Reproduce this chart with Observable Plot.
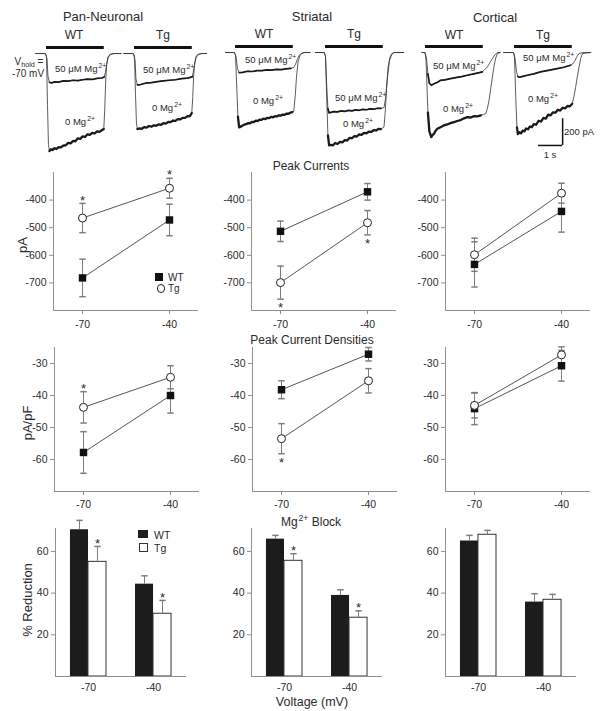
<!DOCTYPE html>
<html><head><meta charset="utf-8">
<script src="https://cdn.jsdelivr.net/npm/d3@7"></script>
<script src="https://cdn.jsdelivr.net/npm/@observablehq/plot@0.6"></script>
<style>
body{margin:0;background:#fff;}
#fig{position:relative;width:600px;height:711px;overflow:hidden;font-family:"Liberation Sans",Arial,Helvetica,sans-serif;color:#222;background:#fff;}
#fig svg{position:absolute;}
.lab{position:absolute;white-space:nowrap;line-height:1;}
.lab sup{font-size:0.72em;vertical-align:baseline;position:relative;top:-0.62em;margin-left:1px;}
.lab sub{font-size:0.72em;vertical-align:baseline;position:relative;top:0.3em;}
.sw{position:absolute;box-sizing:border-box;}
</style></head>
<body><div id="fig"></div>
<script>
// ---------------- DATA ----------------
const regions = ["Pan-Neuronal", "Striatal", "Cortical"];
const genotypes = ["WT", "Tg"];
const voltages = [-70, -40];               // holding potential (mV)

// Peak currents (pA): mean and SEM at -70, -40 mV
const peakPanWT = [-682, -472], peakPanWTsem = [68, 57];
const peakPanTg = [-465, -357], peakPanTgSem = [53, 36];
const peakStrWT = [-513, -370], peakStrWTsem = [37, 30];
const peakStrTg = [-699, -482], peakStrTgSem = [60, 44];
const peakCorWT = [-633, -441], peakCorWTsem = [82, 75];
const peakCorTg = [-598, -375], peakCorTgSem = [60, 36];
const peakSigPan = [true, true], peakSigStr = [true, true], peakSigCor = [false, false];

// Peak current densities (pA/pF)
const densPanWT = [-57.8, -40.0], densPanWTsem = [6.5, 5.5];
const densPanTg = [-43.7, -34.3], densPanTgSem = [4.9, 3.6];
const densStrWT = [-38.2, -27.1], densStrWTsem = [2.8, 2.1];
const densStrTg = [-53.5, -35.4], densStrTgSem = [4.7, 3.8];
const densCorWT = [-44.1, -30.7], densCorWTsem = [5.0, 4.8];
const densCorTg = [-43.1, -27.3], densCorTgSem = [3.9, 2.5];
const densSigPan = [true, false], densSigStr = [true, false], densSigCor = [false, false];

// Mg2+ block (% reduction)
const blockPanWT = [70.4, 44.3], blockPanWTsem = [4.5, 4.0];
const blockPanTg = [55.0, 30.1], blockPanTgSem = [7.4, 6.4];
const blockStrWT = [65.9, 38.9], blockStrWTsem = [1.8, 2.7];
const blockStrTg = [55.5, 28.2], blockStrTgSem = [3.4, 3.3];
const blockCorWT = [65.0, 35.7], blockCorWTsem = [2.7, 4.0];
const blockCorTg = [68.0, 36.8], blockCorTgSem = [2.1, 2.6];
const blockSigPan = [true, true], blockSigStr = [true, true], blockSigCor = [false, false];

const peakTicks = [-400, -500, -600, -700];
const densTicks = [-30, -40, -50, -60];
const blockTicks = [20, 40, 60];

// Example current traces at Vhold = -70 mV: [time (s) from agonist onset, current (pA)]
const application = [{start: 0, end: 2.4}];
const scaleBarTime = 1, scaleBarCurrent = 200;
const panWT50 = [[-0.45,0],[-0.05,0],[0.02,-40],[0.06,-170],[0.12,-215],[0.2,-220],[0.35,-212],[0.5,-214],[0.7,-205],[0.9,-207],[1.1,-200],[1.3,-203],[1.5,-196],[1.7,-192],[1.9,-194],[2.1,-186],[2.3,-183],[2.4,-175],[2.45,-140],[2.5,-80],[2.56,-30],[2.65,-8],[2.8,0],[3.1,0]];
const panWT0 = [[-0.45,0],[-0.05,0],[0,-20],[0.04,-380],[0.08,-680],[0.12,-730],[0.18,-716],[0.25,-722],[0.33,-708],[0.42,-714],[0.5,-700],[0.6,-702],[0.7,-688],[0.8,-686],[0.9,-668],[1,-672],[1.1,-654],[1.2,-656],[1.3,-634],[1.4,-638],[1.5,-620],[1.6,-624],[1.7,-604],[1.8,-608],[1.9,-594],[2,-598],[2.1,-582],[2.2,-586],[2.3,-574],[2.38,-565],[2.42,-420],[2.46,-200],[2.5,-80],[2.56,-25],[2.65,-5],[2.8,0],[3.1,0]];
const panTg50 = [[-0.45,0],[-0.05,0],[0.02,-50],[0.06,-190],[0.12,-235],[0.25,-232],[0.45,-222],[0.7,-218],[0.95,-210],[1.2,-204],[1.45,-200],[1.7,-196],[1.95,-188],[2.2,-184],[2.4,-175],[2.44,-140],[2.5,-80],[2.56,-30],[2.65,-8],[2.8,0],[3.0,0]];
const panTg0 = [[-0.45,0],[-0.05,0],[0,-20],[0.04,-300],[0.08,-520],[0.12,-565],[0.2,-560],[0.3,-563],[0.4,-550],[0.5,-554],[0.6,-542],[0.7,-547],[0.8,-537],[0.9,-540],[1,-530],[1.1,-533],[1.2,-521],[1.3,-524],[1.4,-511],[1.5,-513],[1.6,-501],[1.7,-504],[1.8,-491],[1.9,-493],[2,-481],[2.1,-481],[2.2,-469],[2.3,-468],[2.38,-445],[2.42,-330],[2.46,-160],[2.5,-70],[2.56,-20],[2.65,-5],[2.8,0],[3.0,0]];
const strWT50 = [[-0.42,0],[-0.05,0],[0.02,-30],[0.08,-120],[0.15,-150],[0.3,-148],[0.5,-140],[0.7,-142],[0.9,-135],[1.1,-136],[1.3,-130],[1.5,-131],[1.7,-126],[1.9,-128],[2.1,-122],[2.3,-118],[2.42,-112],[2.5,-85],[2.58,-45],[2.66,-18],[2.75,-6],[2.85,0],[3.1,0]];
const strWT0 = [[-0.42,0],[-0.05,0],[0,-20],[0.05,-250],[0.1,-480],[0.15,-560],[0.2,-556],[0.28,-548],[0.36,-540],[0.44,-536],[0.52,-528],[0.6,-530],[0.68,-518],[0.76,-520],[0.84,-510],[0.92,-512],[1,-502],[1.08,-504],[1.16,-494],[1.24,-498],[1.32,-488],[1.4,-490],[1.48,-482],[1.56,-484],[1.64,-476],[1.72,-478],[1.8,-470],[1.88,-472],[1.96,-464],[2.04,-466],[2.12,-458],[2.2,-458],[2.28,-450],[2.36,-446],[2.42,-440],[2.48,-330],[2.54,-170],[2.6,-70],[2.68,-22],[2.76,-6],[2.85,0],[3.1,0]];
const strTg50 = [[-0.42,0],[-0.05,0],[0,-30],[0.05,-250],[0.1,-420],[0.15,-452],[0.22,-448],[0.35,-442],[0.5,-444],[0.65,-436],[0.8,-440],[0.95,-433],[1.1,-436],[1.25,-429],[1.4,-432],[1.55,-425],[1.7,-428],[1.85,-421],[2,-424],[2.15,-417],[2.3,-418],[2.43,-412],[2.5,-340],[2.58,-180],[2.66,-60],[2.75,-15],[2.85,0],[3.25,0]];
const strTg0 = [[-0.42,0],[-0.05,0],[0,-30],[0.05,-350],[0.1,-620],[0.15,-695],[0.21,-690],[0.3,-694],[0.4,-678],[0.5,-684],[0.6,-668],[0.7,-672],[0.8,-655],[0.9,-658],[1,-638],[1.1,-641],[1.2,-625],[1.3,-628],[1.4,-612],[1.5,-615],[1.6,-601],[1.7,-604],[1.8,-592],[1.9,-594],[2,-581],[2.1,-583],[2.2,-571],[2.3,-573],[2.43,-557],[2.48,-450],[2.54,-260],[2.6,-110],[2.68,-35],[2.76,-8],[2.85,0],[3.25,0]];
const corWT50 = [[-0.15,0],[-0.02,0],[0.04,-40],[0.1,-160],[0.16,-230],[0.24,-245],[0.35,-233],[0.5,-222],[0.625,-208],[0.8,-205],[1.04,-195],[1.25,-188],[1.5,-180],[1.74,-170],[2,-160],[2.2,-152],[2.36,-145],[2.45,-130],[2.57,-108],[2.68,-75],[2.78,-45],[2.88,-18],[2.99,0],[3.1,0]];
const corWT0 = [[-0.15,0],[-0.02,0],[0.02,-60],[0.06,-250],[0.1,-450],[0.16,-590],[0.24,-633],[0.3,-615],[0.35,-608],[0.42,-585],[0.49,-570],[0.6,-560],[0.76,-545],[0.9,-538],[1.04,-528],[1.18,-520],[1.32,-512],[1.46,-505],[1.6,-492],[1.74,-483],[1.88,-486],[2.02,-476],[2.16,-478],[2.3,-470],[2.42,-462],[2.5,-458],[2.57,-420],[2.64,-358],[2.71,-270],[2.78,-183],[2.85,-100],[2.92,-40],[2.99,-8],[3.1,0]];
const corTg50 = [[-0.45,0],[-0.04,0],[0.02,-40],[0.08,-140],[0.14,-180],[0.2,-185],[0.35,-178],[0.53,-170],[0.8,-160],[1.08,-145],[1.4,-134],[1.78,-120],[2.05,-110],[2.33,-95],[2.42,-85],[2.5,-65],[2.58,-35],[2.68,-8],[2.82,0],[3.17,0]];
const corTg0 = [[-0.45,0],[-0.04,0],[0,-40],[0.05,-330],[0.1,-560],[0.14,-610],[0.2,-596],[0.27,-604],[0.34,-584],[0.41,-590],[0.48,-568],[0.56,-574],[0.64,-553],[0.72,-558],[0.8,-536],[0.9,-540],[1,-510],[1.1,-516],[1.2,-489],[1.3,-494],[1.4,-464],[1.5,-470],[1.6,-447],[1.7,-450],[1.8,-428],[1.9,-434],[2,-413],[2.1,-418],[2.2,-400],[2.3,-402],[2.4,-383],[2.47,-330],[2.54,-260],[2.61,-183],[2.68,-110],[2.75,-45],[2.82,-8],[3.17,0]];

// ---------------- STYLE / LAYOUT ----------------
const FONT = '"Liberation Sans", Arial, Helvetica, sans-serif';
const axisColor = "#8f8f8f", errColor = "#7d7d7d", lineColor = "#555", textColor = "#2a2a2a";
const plotStyle = {fontFamily: FONT, fontSize: "10.5px", color: textColor, background: "transparent", overflow: "visible"};
const fig = document.getElementById("fig");
const capSymbol = {draw(ctx, size) { const r = Math.sqrt(size / Math.PI); ctx.moveTo(-r, 0); ctx.lineTo(r, 0); }};

function put(svg, left, top) { svg.style.left = left + "px"; svg.style.top = top + "px"; fig.appendChild(svg); }
function label(html, x, y, o = {}) {
  const d = document.createElement("div");
  d.className = "lab";
  d.innerHTML = html;
  d.style.left = x + "px"; d.style.top = y + "px";
  d.style.fontSize = (o.size || 10) + "px";
  d.style.color = textColor;
  const tx = o.align === "start" ? "0" : "-50%";
  d.style.transform = `translate(${tx},-50%)` + (o.rotate ? " rotate(-90deg)" : "");
  fig.appendChild(d);
}
function swatch(x, y, w, h, css) {
  const d = document.createElement("div");
  d.className = "sw";
  d.style.left = (x - w / 2) + "px"; d.style.top = (y - h / 2) + "px";
  d.style.width = w + "px"; d.style.height = h + "px";
  d.style.cssText += css;
  fig.appendChild(d);
}

// ---------------- TRACES ----------------
const traceTime = [-0.5, 3.2], traceCurrent = [-800, 45];
function tracePanel(tr50, tr0, extra = []) {
  const pts = a => a.map(([t, i]) => ({t, i}));
  const a50 = pts(tr50), a0 = pts(tr0);
  const during = d => d.t >= application[0].start + 0.1 && d.t <= application[0].end;
  return Plot.plot({
    width: 89, height: 115, marginTop: 2, marginBottom: 0, marginLeft: 0, marginRight: 0,
    style: plotStyle,
    x: {domain: traceTime, axis: null}, y: {domain: traceCurrent, axis: null},
    marks: [
      Plot.ruleY(application, {x1: "start", x2: "end", y: () => traceCurrent[1], stroke: "#111", strokeWidth: 3}),
      Plot.line(a50, {x: "t", y: "i", stroke: "#333", strokeWidth: 0.8}),
      Plot.line(a0, {x: "t", y: "i", stroke: "#333", strokeWidth: 0.8}),
      Plot.line(a50.filter(during), {x: "t", y: "i", stroke: "#1a1a1a", strokeWidth: 1.7, strokeLinejoin: "round"}),
      Plot.line(a0.filter(during), {x: "t", y: "i", stroke: "#1a1a1a", strokeWidth: 2.3, strokeLinejoin: "round"}),
      ...extra
    ]
  });
}
const scaleAnchor = {t: 1.0, i: -695};
const scaleBar = [
  Plot.ruleY([scaleAnchor], {x1: d => d.t, x2: d => d.t + scaleBarTime, y: "i", stroke: "#111", strokeWidth: 1.5}),
  Plot.ruleX([scaleAnchor], {x: d => d.t + scaleBarTime, y1: "i", y2: d => d.i + scaleBarCurrent, stroke: "#111", strokeWidth: 1.5})
];
put(tracePanel(panWT50, panWT0), 33.5, 44.7);
put(tracePanel(panTg50, panTg0), 122, 44.7);
put(tracePanel(strWT50, strWT0), 223, 43.7);
put(tracePanel(strTg50, strTg0), 313, 43.7);
put(tracePanel(corWT50, corWT0), 413, 44.3);
put(tracePanel(corTg50, corTg0, scaleBar), 502, 44.3);

// ---------------- LINE PANELS ----------------
const xDomainLine = [-80, -30];
function errorBars(rows, key) {
  const lo = d => d[key] - d[key + "Err"], hi = d => d[key] + d[key + "Err"];
  return [
    Plot.ruleX(rows, {x: "v", y1: lo, y2: hi, stroke: errColor}),
    Plot.dot(rows, {x: "v", y: lo, symbol: capSymbol, r: 3.2, stroke: errColor, fill: "none"}),
    Plot.dot(rows, {x: "v", y: hi, symbol: capSymbol, r: 3.2, stroke: errColor, fill: "none"})
  ];
}
function linePanel(c) {
  const rows = voltages.map((v, k) => ({v, wt: c.wt[k], wtErr: c.wtErr[k], tg: c.tg[k], tgErr: c.tgErr[k], sig: c.sig[k]}));
  return Plot.plot({
    width: 200, height: c.mt + c.fh + c.mb,
    marginLeft: 45, marginRight: 10, marginTop: c.mt, marginBottom: c.mb,
    style: plotStyle,
    x: {domain: xDomainLine}, y: {domain: c.yDomain},
    marks: [
      Plot.ruleX([xDomainLine[0]], {stroke: axisColor}),
      Plot.ruleY([c.yDomain[0]], {stroke: axisColor}),
      Plot.axisY({ticks: c.yTicks, tickSize: 4, tickPadding: 3, tickFormat: d => String(d), label: null, stroke: axisColor, fill: textColor}),
      Plot.axisX({ticks: voltages, tickSize: 4, tickPadding: c.xPad, tickFormat: d => String(d), label: null, stroke: axisColor, fill: textColor}),
      ...errorBars(rows, "wt"), ...errorBars(rows, "tg"),
      Plot.line(rows, {x: "v", y: "wt", stroke: lineColor, strokeWidth: 1}),
      Plot.line(rows, {x: "v", y: "tg", stroke: lineColor, strokeWidth: 1}),
      Plot.dot(rows, {x: "v", y: "wt", symbol: "square", r: 4.2, fill: "#111", stroke: "none"}),
      Plot.dot(rows, {x: "v", y: "tg", symbol: "circle", r: 4, fill: "#fff", stroke: "#222", strokeWidth: 1}),
      Plot.text(rows.filter(d => d.sig), {x: "v", y: d => c.sigAbove ? d.tg + d.tgErr : d.tg - d.tgErr,
        text: () => "*", dy: c.sigAbove ? -3 : 9, fontSize: 13, fill: textColor})
    ]
  });
}
const peakRow = {yDomain: [-800, -300], yTicks: peakTicks, mt: 12, fh: 138, mb: 28, xPad: 6};
put(linePanel({...peakRow, wt: peakPanWT, wtErr: peakPanWTsem, tg: peakPanTg, tgErr: peakPanTgSem, sig: peakSigPan, sigAbove: true}), 8, 160);
put(linePanel({...peakRow, wt: peakStrWT, wtErr: peakStrWTsem, tg: peakStrTg, tgErr: peakStrTgSem, sig: peakSigStr, sigAbove: false}), 206, 160);
put(linePanel({...peakRow, wt: peakCorWT, wtErr: peakCorWTsem, tg: peakCorTg, tgErr: peakCorTgSem, sig: peakSigCor, sigAbove: true}), 400, 160);

const densRow = {yDomain: [-70, -25], yTicks: densTicks, mt: 11, fh: 144, mb: 22, xPad: 5};
put(linePanel({...densRow, wt: densPanWT, wtErr: densPanWTsem, tg: densPanTg, tgErr: densPanTgSem, sig: densSigPan, sigAbove: true}), 9, 336);
put(linePanel({...densRow, wt: densStrWT, wtErr: densStrWTsem, tg: densStrTg, tgErr: densStrTgSem, sig: densSigStr, sigAbove: false}), 207, 336);
put(linePanel({...densRow, wt: densCorWT, wtErr: densCorWTsem, tg: densCorTg, tgErr: densCorTgSem, sig: densSigCor, sigAbove: true}), 400, 336);

// ---------------- BAR PANELS ----------------
function barPanel(c) {
  const rows = voltages.map((v, k) => ({v, wt: c.wt[k], wtErr: c.wtErr[k], tg: c.tg[k], tgErr: c.tgErr[k], sig: c.sig[k]}));
  const half = 18, off = 9;
  return Plot.plot({
    width: 200, height: 13 + 148 + 24, marginLeft: 55, marginRight: 14, marginTop: 13, marginBottom: 24,
    style: plotStyle,
    x: {type: "band", domain: voltages, paddingInner: 0.446, paddingOuter: 0.23, round: false},
    y: {domain: [0, 71]},
    marks: [
      Plot.barY(rows, {x: "v", y: "wt", insetRight: half, fill: "#1c1c1c"}),
      Plot.barY(rows, {x: "v", y: "tg", insetLeft: half, fill: "#fff", stroke: "#333", strokeWidth: 1}),
      Plot.ruleX(rows, {x: "v", y1: "wt", y2: d => d.wt + d.wtErr, dx: -off, stroke: errColor}),
      Plot.dot(rows, {x: "v", y: d => d.wt + d.wtErr, dx: -off, symbol: capSymbol, r: 3.2, stroke: errColor, fill: "none"}),
      Plot.ruleX(rows, {x: "v", y1: "tg", y2: d => d.tg + d.tgErr, dx: off, stroke: errColor}),
      Plot.dot(rows, {x: "v", y: d => d.tg + d.tgErr, dx: off, symbol: capSymbol, r: 3.2, stroke: errColor, fill: "none"}),
      Plot.frame({anchor: "left", stroke: axisColor}),
      Plot.ruleY([0], {stroke: axisColor}),
      Plot.axisY({ticks: blockTicks, tickSize: 4, tickPadding: 3, tickFormat: d => String(d), label: null, stroke: axisColor, fill: textColor}),
      Plot.axisX({tickSize: 0, tickPadding: 7, tickFormat: d => String(d), label: null, fill: textColor}),
      Plot.text(rows.filter(d => d.sig), {x: "v", y: d => d.tg + d.tgErr, dx: off, dy: -3, text: () => "*", fontSize: 13, fill: textColor})
    ]
  });
}
put(barPanel({wt: blockPanWT, wtErr: blockPanWTsem, tg: blockPanTg, tgErr: blockPanTgSem, sig: blockSigPan}), 0, 515);
put(barPanel({wt: blockStrWT, wtErr: blockStrWTsem, tg: blockStrTg, tgErr: blockStrTgSem, sig: blockSigStr}), 196, 515);
put(barPanel({wt: blockCorWT, wtErr: blockCorWTsem, tg: blockCorTg, tgErr: blockCorTgSem, sig: blockSigCor}), 390, 515);

// ---------------- TEXT ----------------
label(regions[0], 103, 16, {size: 13});
label(regions[1], 312, 16, {size: 13});
label(regions[2], 495, 17, {size: 13});
[[74, 35], [163, 35], [264, 34], [354, 34], [454, 35], [543, 35]].forEach(([x, y], k) => label(genotypes[k % 2], x, y, {size: 12}));
label("V<sub>hold</sub> =", 29, 62, {size: 10});
label("-70 mV", 28, 74, {size: 10});
const mg50 = "50 &mu;M Mg<sup>2+</sup>", mg0 = "0 Mg<sup>2+</sup>";
label(mg50, 55, 69, {size: 9.5, align: "start"});
label(mg0, 65, 122, {size: 9.5, align: "start"});
label(mg50, 143, 70, {size: 9.5, align: "start"});
label(mg0, 152, 108, {size: 9.5, align: "start"});
label(mg50, 245, 60, {size: 9.5, align: "start"});
label(mg0, 253, 101, {size: 9.5, align: "start"});
label(mg50, 335, 98, {size: 9.5, align: "start"});
label(mg0, 343, 124, {size: 9.5, align: "start"});
label(mg50, 433, 66, {size: 9.5, align: "start"});
label(mg0, 443, 109, {size: 9.5, align: "start"});
label(mg50, 523, 58, {size: 9.5, align: "start"});
label(mg0, 528, 99, {size: 9.5, align: "start"});
label(`${scaleBarCurrent} pA`, 564, 132, {size: 9.5, align: "start"});
label(`${scaleBarTime} s`, 550, 155, {size: 9.5});

label("Peak Currents", 311, 166, {size: 12});
label("Peak Current Densities", 312, 340, {size: 12});
label("Mg<sup>2+</sup> Block", 311, 522, {size: 12});
label("pA", 22, 245, {size: 13, rotate: true});
label("pA/pF", 27, 423, {size: 13, rotate: true});
label("% Reduction", 27, 600, {size: 13, rotate: true});
label("Voltage (mV)", 312, 702, {size: 12.5});

// legends
swatch(159, 277, 7.5, 7.5, "background:#111;");
swatch(161, 288.5, 8.5, 8.5, "background:#fff;border:1px solid #222;border-radius:50%;");
label(genotypes[0], 168, 277.5, {size: 10, align: "start"});
label(genotypes[1], 168, 289, {size: 10, align: "start"});
swatch(143, 534, 9.5, 8.5, "background:#1c1c1c;");
swatch(143.5, 547.5, 9.5, 8.5, "background:#fff;border:1px solid #333;");
label(genotypes[0], 154, 534.5, {size: 10.5, align: "start"});
label(genotypes[1], 154, 548, {size: 10.5, align: "start"});
</script></body></html>
